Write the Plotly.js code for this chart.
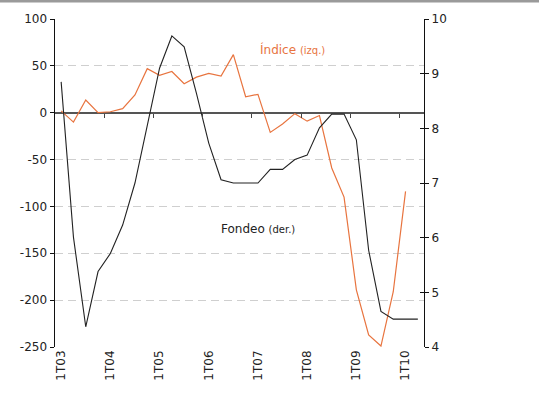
<!DOCTYPE html>
<html>
<head>
<meta charset="utf-8">
<script src="https://cdn.plot.ly/plotly-3.0.1.min.js"></script>
<style>html,body{margin:0;padding:0;background:#fff;}#chart{width:544px;height:404px;}</style>
</head>
<body>
<div id="chart"></div>
<script>
var quarters = ["1T03","2T03","3T03","4T03","1T04","2T04","3T04","4T04","1T05","2T05","3T05","4T05",
  "1T06","2T06","3T06","4T06","1T07","2T07","3T07","4T07","1T08","2T08","3T08","4T08",
  "1T09","2T09","3T09","4T09","1T10","2T10"];
var indice = [2, -10, 13.5, 0, 1, 4.3, 19, 47, 40, 44, 31, 38, 42, 39, 62, 17, 19.6, -21, -12, -1,
  -9, -3, -59, -90, -189, -237, -249, -191, -84, null];
var fondeo = [8.85, 6.01, 4.37, 5.38, 5.71, 6.23, 7.0, 8.02, 9.10, 9.69, 9.49, 8.64, 7.73, 7.06, 7.0,
  7.0, 7.0, 7.25, 7.25, 7.43, 7.51, 8.01, 8.26, 8.26, 7.79, 5.77, 4.65, 4.51, 4.51, 4.51];
var yearLabels = ["1T03","1T04","1T05","1T06","1T07","1T08","1T09","1T10"];
var leftTicks = [100, 50, 0, -50, -100, -150, -200, -250];
var leftTickText = ["100", "50", "0", "-50", "-100", "-150", "-200", "-250"];
var rightTicks = [10, 9, 8, 7, 6, 5, 4];
var rightTickText = ["10", "9", "8", "7", "6", "5", "4"];

var xs = quarters.map(function(q, i){ return i; });
var labelVals = yearLabels.map(function(l){ return quarters.indexOf(l); });
var boundaryVals = labelVals.slice(1).map(function(v){ return v - 0.5; });

var font = {family: "DejaVu Sans", size: 12, color: "#222"};

var traces = [
  {x: xs, y: indice, type: "scatter", mode: "lines", xaxis: "x", yaxis: "y",
   line: {color: "#E8743F", width: 1.2}, connectgaps: false, hoverinfo: "skip"},
  {x: xs, y: fondeo, type: "scatter", mode: "lines", xaxis: "x", yaxis: "y2",
   line: {color: "#222", width: 1.1}, hoverinfo: "skip"},
  {x: [], y: [], type: "scatter", mode: "lines", xaxis: "x2", yaxis: "y3", hoverinfo: "skip"}
];

var layout = {
  width: 544, height: 404,
  margin: {l: 55, r: 120, t: 19, b: 57},
  paper_bgcolor: "#fff", plot_bgcolor: "rgba(0,0,0,0)",
  showlegend: false,
  font: font,
  xaxis: {
    type: "linear", range: [-0.5, 29.5],
    tickvals: labelVals, ticktext: yearLabels, tickangle: -90,
    ticks: "", showgrid: false, zeroline: false, showline: false,
    tickfont: font
  },
  xaxis2: {
    type: "linear", range: [-0.5, 29.5], overlaying: "x", anchor: "free", position: 250/350,
    tickvals: boundaryVals, ticks: "outside", ticklen: 4, tickwidth: 1, tickcolor: "#444",
    showticklabels: false, showgrid: false, zeroline: false, showline: false
  },
  yaxis: {
    range: [-250, 100], tickvals: leftTicks, ticktext: leftTickText,
    showgrid: true, gridcolor: "#cfcfcf", gridwidth: 1, griddash: "8px,5px",
    zeroline: true, zerolinecolor: "#555", zerolinewidth: 1.6,
    showline: true, linecolor: "#111", linewidth: 1.5,
    ticks: "outside", ticklen: 4, tickcolor: "#111", tickfont: font
  },
  yaxis2: {
    range: [4, 10], tickvals: rightTicks, ticktext: rightTickText, overlaying: "y", side: "right", anchor: "x",
    showgrid: false, zeroline: false, showline: true, linecolor: "#111", linewidth: 1.2,
    ticks: "outside", ticklen: 4, tickcolor: "#111", tickfont: font
  },
  yaxis3: {
    range: [4, 10], tickvals: rightTicks, overlaying: "y", side: "right", anchor: "x",
    showgrid: false, zeroline: false, showline: false, showticklabels: false,
    ticks: "inside", ticklen: 4, tickcolor: "#111"
  },
  shapes: [
    {type: "line", xref: "paper", yref: "paper", x0: -55/369, x1: 484/369, y0: 1 + 18/328, y1: 1 + 18/328,
     line: {color: "#9a9a9a", width: 3}}
  ],
  annotations: [
    {xref: "paper", yref: "paper", x: 0.550, y: 0.9055, xanchor: "left", yanchor: "middle", showarrow: false,
     text: "Índice <span style='font-size:10px'>(izq.)</span>",
     font: {family: "DejaVu Sans", size: 12, color: "#E8743F"}},
    {xref: "paper", yref: "paper", x: 0.4444, y: 0.3598, xanchor: "left", yanchor: "middle", showarrow: false,
     text: "Fondeo <span style='font-size:10px'>(der.)</span>",
     font: {family: "DejaVu Sans", size: 12, color: "#222"}}
  ]
};

Plotly.newPlot("chart", traces, layout, {staticPlot: true, displayModeBar: false});
</script>
</body>
</html>
